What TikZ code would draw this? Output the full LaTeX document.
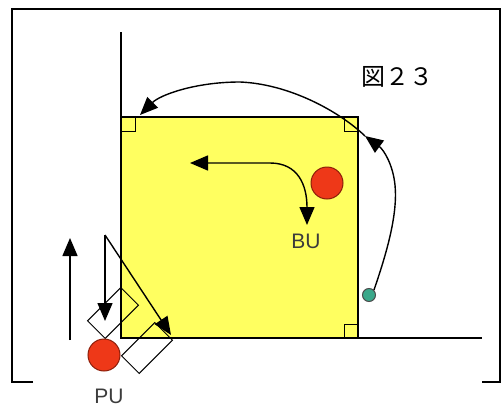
\documentclass[tikz,border=0pt]{standalone}
\usepackage{fontspec}
\setsansfont{Liberation Sans}
\newfontfamily\cjk{Noto Sans CJK JP}
\usetikzlibrary{arrows.meta}

\definecolor{courtyellow}{RGB}{255,255,96}
\definecolor{ballred}{RGB}{238,56,24}
\definecolor{ballrim}{RGB}{140,30,10}
\definecolor{wingteal}{RGB}{58,168,138}
\definecolor{labelgray}{RGB}{60,60,60}

\begin{document}
\begin{tikzpicture}[
  x=1pt, y=-1pt,
  outline/.style={line width=2pt},
  court/.style={fill=courtyellow, draw, line width=1.8pt, inner sep=0pt, outer sep=0pt,
                minimum width=237pt, minimum height=221pt},
  corner/.style={draw, line width=1pt, inner sep=0pt, outer sep=0pt, minimum size=14pt},
  ball/.style={circle, fill=ballred, draw=ballrim, line width=1pt, inner sep=0pt, minimum size=32pt},
  wing/.style={circle, fill=wingteal, draw=black!70, line width=1pt, inner sep=0pt, minimum size=13pt},
  screen/.style={draw, line width=1pt, rotate=45, inner sep=0pt, minimum width=47pt, minimum height=25pt},
  lbl/.style={font=\sffamily\fontsize{21}{21}\selectfont, text=labelgray, inner sep=0pt},
  arr/.style={-{Triangle[length=18pt,width=15pt]}, line width=1.4pt},
  dbl/.style={{Triangle[length=18pt,width=15pt]}-{Triangle[length=18pt,width=15pt]}, line width=1.4pt}
]
\useasboundingbox (0,0) rectangle (501,407);

\draw[outline] (33,382) -- (12,382) -- (12,9) -- (500,9) -- (500,382) -- (482,382);

\node[court, anchor=north west] (court) at (121,117) {};
\node[corner, anchor=north west] (cnw) at (court.north west) {};
\node[corner, anchor=north east] (cne) at (court.north east) {};
\node[corner, anchor=south east] (cse) at (court.south east) {};
\coordinate (sidetop) at (121,32);
\coordinate (baseend) at (482,338);
\draw[line width=1.8pt] (sidetop) -- (court.north west);
\draw[line width=2.8pt] (court.south west) -- (court.south east);
\draw[line width=1.6pt] (court.south east) -- (baseend);

\node[screen] (scr1) at (113,313) {};
\node[screen] (scr2) at (147,348) {};
\node[ball] (bu) at (327,183) {};
\node[ball] (pu) at (104,355) {};
\node[wing] (wg) at (369,295) {};

\node[lbl] (bulbl) at (306,241) {BU};
\node[lbl] (pulbl) at (109,396) {PU};
\node[font=\cjk\fontsize{24}{24}\selectfont, inner sep=0pt] (title) at (397,77) {図２３};

\coordinate (buleft) at (190,163);
\coordinate (bucut) at (270,163);
\coordinate (budown) at (307,225);
\draw[dbl] (buleft) -- (bucut) .. controls (298,163) and (307,185) .. (budown);

\coordinate (mid) at (365,136);
\coordinate (topend) at (140,115);
\draw[arr] (wg.north east) .. controls (386,255) and (398,215) .. (395,185)
  .. controls (393,165) and (384,150) .. (mid);
\draw[arr] (mid) .. controls (340,112) and (290,84) .. (240,82)
  .. controls (195,82) and (160,95) .. (topend);

\coordinate (upbase) at (70,340);
\coordinate (uptip) at (70,238);
\coordinate (cut) at (105,235);
\coordinate (downtip) at (105,321);
\coordinate (diagtip) at (171,335);
\draw[arr] (upbase) -- (uptip);
\draw[arr] (cut) -- (downtip);
\draw[arr] (cut) -- (diagtip);
\end{tikzpicture}
\end{document}
